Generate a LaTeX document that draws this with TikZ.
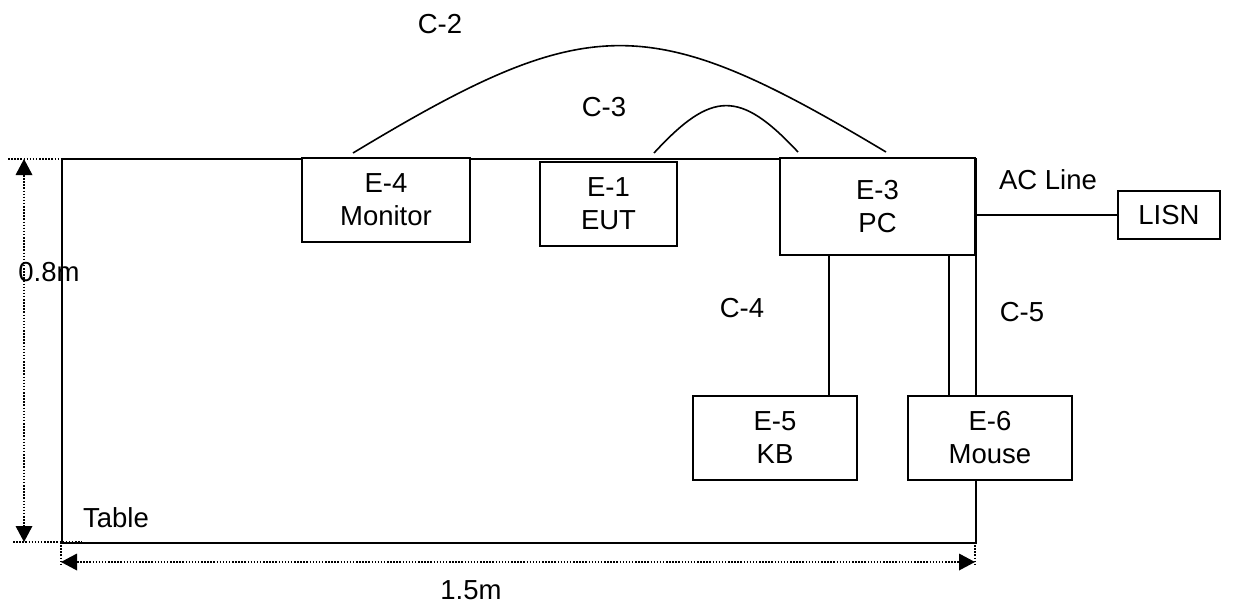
\documentclass[tikz,border=0pt]{standalone}
\usepackage{fontspec}
\setmainfont{Liberation Sans}
\usetikzlibrary{arrows.meta}
\begin{document}
\begin{tikzpicture}[x=1pt,y=-1pt,
  every node/.style={font=\fontsize{27.5pt}{33pt}\selectfont, inner sep=0pt},
  box/.style={draw, line width=1.6pt, fill=white, align=center},
  wire/.style={line width=1.6pt},
  dimline/.style={line width=1.6pt, dash pattern=on 1.5pt off 1.6pt},
  dimarrow/.style={dimline, {Triangle[length=16pt,width=17pt,line width=0pt]}-{Triangle[length=16pt,width=17pt,line width=0pt]}},
  lbl/.style={}]
\useasboundingbox (0,0) rectangle (1239,603);
% table
\node[draw, line width=2pt, minimum width=914pt, minimum height=384pt, anchor=north west] (table) at (61,158) {};
% boxes
\node[box, minimum width=168pt, minimum height=84pt] (e4) at (386,200) {E-4\\Monitor};
\node[box, minimum width=137pt, minimum height=84pt] (e1) at (608.5,204) {E-1\\EUT};
\node[box, minimum width=195pt, minimum height=97pt] (e3) at (877.5,206.5) {E-3\\PC};
\node[box, minimum width=102pt, minimum height=48pt] (lisn) at (1169,215) {LISN};
\coordinate (c4) at (829,0);
\coordinate (c5) at (949,0);
\draw[wire] (c4 |- e3.south) -- (c4 |- 0,396);
\draw[wire] (c5 |- e3.south) -- (c5 |- 0,396);
\node[box, minimum width=164pt, minimum height=84pt] (e5) at (775,438) {E-5\\KB};
\node[box, minimum width=164pt, minimum height=84pt] (e6) at (990,438) {E-6\\Mouse};
% AC line
\draw[wire] (e3.east |- lisn.west) -- (lisn.west);
% cables on top
\coordinate (c2a) at (353,153);
\coordinate (c2b) at (886,152);
\coordinate (c3a) at (654,153);
\coordinate (c3b) at (798,152);
\draw[wire] (c2a) .. controls (590,10) and (649,10) .. (c2b);
\draw[wire] (c3a) .. controls (712,90) and (740,90) .. (c3b);
% labels
\node[lbl] (lc2) at (440,24) {C-2};
\node[lbl] (lc3) at (604,107) {C-3};
\node[lbl] (lc4) at (742,308) {C-4};
\node[lbl] (lc5) at (1022,312) {C-5};
\node[lbl] (lac) at (1048,180) {AC Line};
\node[lbl] (ltab) at (116,518) {Table};
\node[lbl] (l08) at (49,272) {0.8m};
\node[lbl] (l15) at (471,590) {1.5m};
% dimensions
\coordinate (vt) at (24,159);
\coordinate (vb) at (24,542);
\draw[dimline] (8,159) -- (77,159);
\draw[dimline] (13,542) -- (82,542);
\draw[dimarrow] (vt) -- (vb);
\coordinate (hl) at (61,562);
\coordinate (hr) at (975,562);
\draw[dimline] (61,542) -- (61,566);
\draw[dimline] (975,542) -- (975,566);
\draw[dimarrow] (hl) -- (hr);
\end{tikzpicture}
\end{document}
